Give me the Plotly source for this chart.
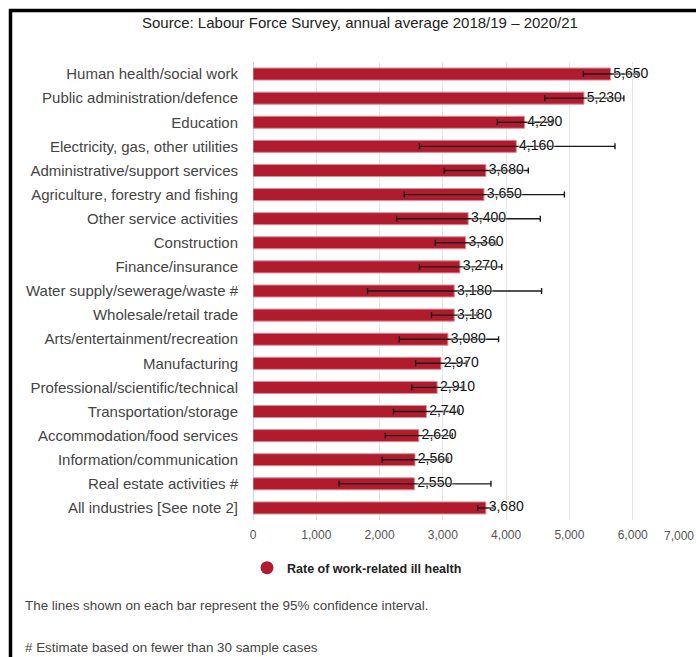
import plotly.graph_objects as go

categories = [
    "Human health/social work",
    "Public administration/defence",
    "Education",
    "Electricity, gas, other utilities",
    "Administrative/support services",
    "Agriculture, forestry and fishing",
    "Other service activities",
    "Construction",
    "Finance/insurance",
    "Water supply/sewerage/waste #",
    "Wholesale/retail trade",
    "Arts/entertainment/recreation",
    "Manufacturing",
    "Professional/scientific/technical",
    "Transportation/storage",
    "Accommodation/food services",
    "Information/communication",
    "Real estate activities #",
    "All industries [See note 2]",
]
rates = [5650, 5230, 4290, 4160, 3680, 3650, 3400, 3360, 3270, 3180,
         3180, 3080, 2970, 2910, 2740, 2620, 2560, 2550, 3680]
ci_low = [5220, 4610, 3860, 2630, 3020, 2390, 2270, 2880, 2630, 1810,
          2820, 2310, 2570, 2510, 2220, 2090, 2040, 1360, 3550]
ci_high = [6080, 5860, 4720, 5720, 4350, 4920, 4540, 3840, 3930, 4560,
           3540, 3880, 3370, 3310, 3260, 3150, 3080, 3760, 3810]
x_ticks = [0, 1000, 2000, 3000, 4000, 5000, 6000]
x_tick_labels = ["0", "1,000", "2,000", "3,000", "4,000", "5,000", "6,000"]

series_name = "Rate of work-related ill health"
title_text = "Source: Labour Force Survey, annual average 2018/19 \u2013 2020/21"
note1 = "The lines shown on each bar represent the 95% confidence interval."
note2 = "# Estimate based on fewer than 30 sample cases"

BAR = "#b01c2e"
FONT = "Liberation Sans, Arial, sans-serif"

err_plus = [h - r for h, r in zip(ci_high, rates)]
err_minus = [r - l for r, l in zip(rates, ci_low)]
value_labels = [f"{v:,}" for v in rates]

W, H = 696, 657
ML, MR, MT, MB = 253, 0, 62, 137
PW = W - ML - MR
PH = H - MT - MB


def px(xp):
    return (xp - ML) / PW


def py(yp):
    return (H - MB - yp) / PH


fig = go.Figure()
fig.add_trace(go.Bar(
    y=categories, x=rates, orientation="h",
    marker=dict(color=BAR, line=dict(color="#dc8f99", width=1)),
    error_x=dict(type="data", symmetric=False, array=err_plus,
                 arrayminus=err_minus, color="#1a1a1a", thickness=1.4, width=3),
    showlegend=False, hoverinfo="skip",
))
# value labels drawn above the error bars
fig.add_trace(go.Scatter(
    y=categories, x=rates, mode="text", text=value_labels,
    texttemplate="\u2009%{text}",
    textposition="middle right", cliponaxis=False,
    textfont=dict(family=FONT, size=14, color="#111111",
                  shadow="0px 0px 2px white, 0px 0px 2px white"),
    showlegend=False, hoverinfo="skip",
))
fig.add_trace(go.Scatter(
    x=[None], y=[None], mode="markers", name=series_name,
    marker=dict(color=BAR, size=13, symbol="circle"),
    showlegend=True, hoverinfo="skip",
))

annotations = [
    dict(text=title_text, xref="paper", yref="paper", x=px(360), y=py(22),
         xanchor="center", yanchor="middle", showarrow=False,
         font=dict(family=FONT, size=15, color="#222222")),
    dict(text="7,000", xref="x", yref="paper", x=7000, y=py(536),
         xanchor="right", yanchor="middle", showarrow=False,
         font=dict(family=FONT, size=12, color="#555555")),
    dict(text=note1, xref="paper", yref="paper", x=px(23), y=py(605),
         xanchor="left", yanchor="middle", showarrow=False,
         font=dict(family=FONT, size=13.4, color="#444444")),
    dict(text=note2, xref="paper", yref="paper", x=px(23), y=py(647),
         xanchor="left", yanchor="middle", showarrow=False,
         font=dict(family=FONT, size=13.4, color="#444444")),
]

shapes = [
    dict(type="line", xref="paper", yref="paper", x0=px(9), x1=px(700),
         y0=py(10.5), y1=py(10.5), line=dict(color="black", width=3.5)),
    dict(type="line", xref="paper", yref="paper", x0=px(10.5), x1=px(10.5),
         y0=py(9), y1=py(665), line=dict(color="black", width=3.5)),
]

fig.update_layout(
    width=W, height=H,
    margin=dict(l=ML, r=MR, t=MT, b=MB, pad=0),
    paper_bgcolor="white", plot_bgcolor="white",
    font=dict(family=FONT, size=13, color="#444444"),
    bargap=0.5,
    showlegend=True,
    legend=dict(orientation="h", x=px(247), y=py(568), xanchor="left",
                yanchor="middle",
                font=dict(family=FONT, size=12.5, color="#222222", weight="bold"),
                itemsizing="trace", bgcolor="rgba(0,0,0,0)"),
    xaxis=dict(range=[0, 7000], tickvals=x_ticks, ticktext=x_tick_labels,
               showgrid=True, gridcolor="#e6e6e6", gridwidth=1,
               zeroline=True, zerolinecolor="#ccd6eb", zerolinewidth=1,
               showline=False, ticks="", ticklabelstandoff=6,
               tickfont=dict(family=FONT, size=12, color="#555555"),
               fixedrange=True),
    yaxis=dict(categoryorder="array", categoryarray=categories,
               range=[len(categories) - 0.5, -0.5], autorange=False,
               showgrid=False, zeroline=False,
               showline=False, ticks="", ticklabelstandoff=14,
               tickfont=dict(family=FONT, size=15, color="#444444"),
               fixedrange=True),
    annotations=annotations,
    shapes=shapes,
)

fig.write_html("out.html",
               config={"displayModeBar": False},
               post_script="document.body.style.margin='0';"
                           "document.body.style.overflow='hidden';")
